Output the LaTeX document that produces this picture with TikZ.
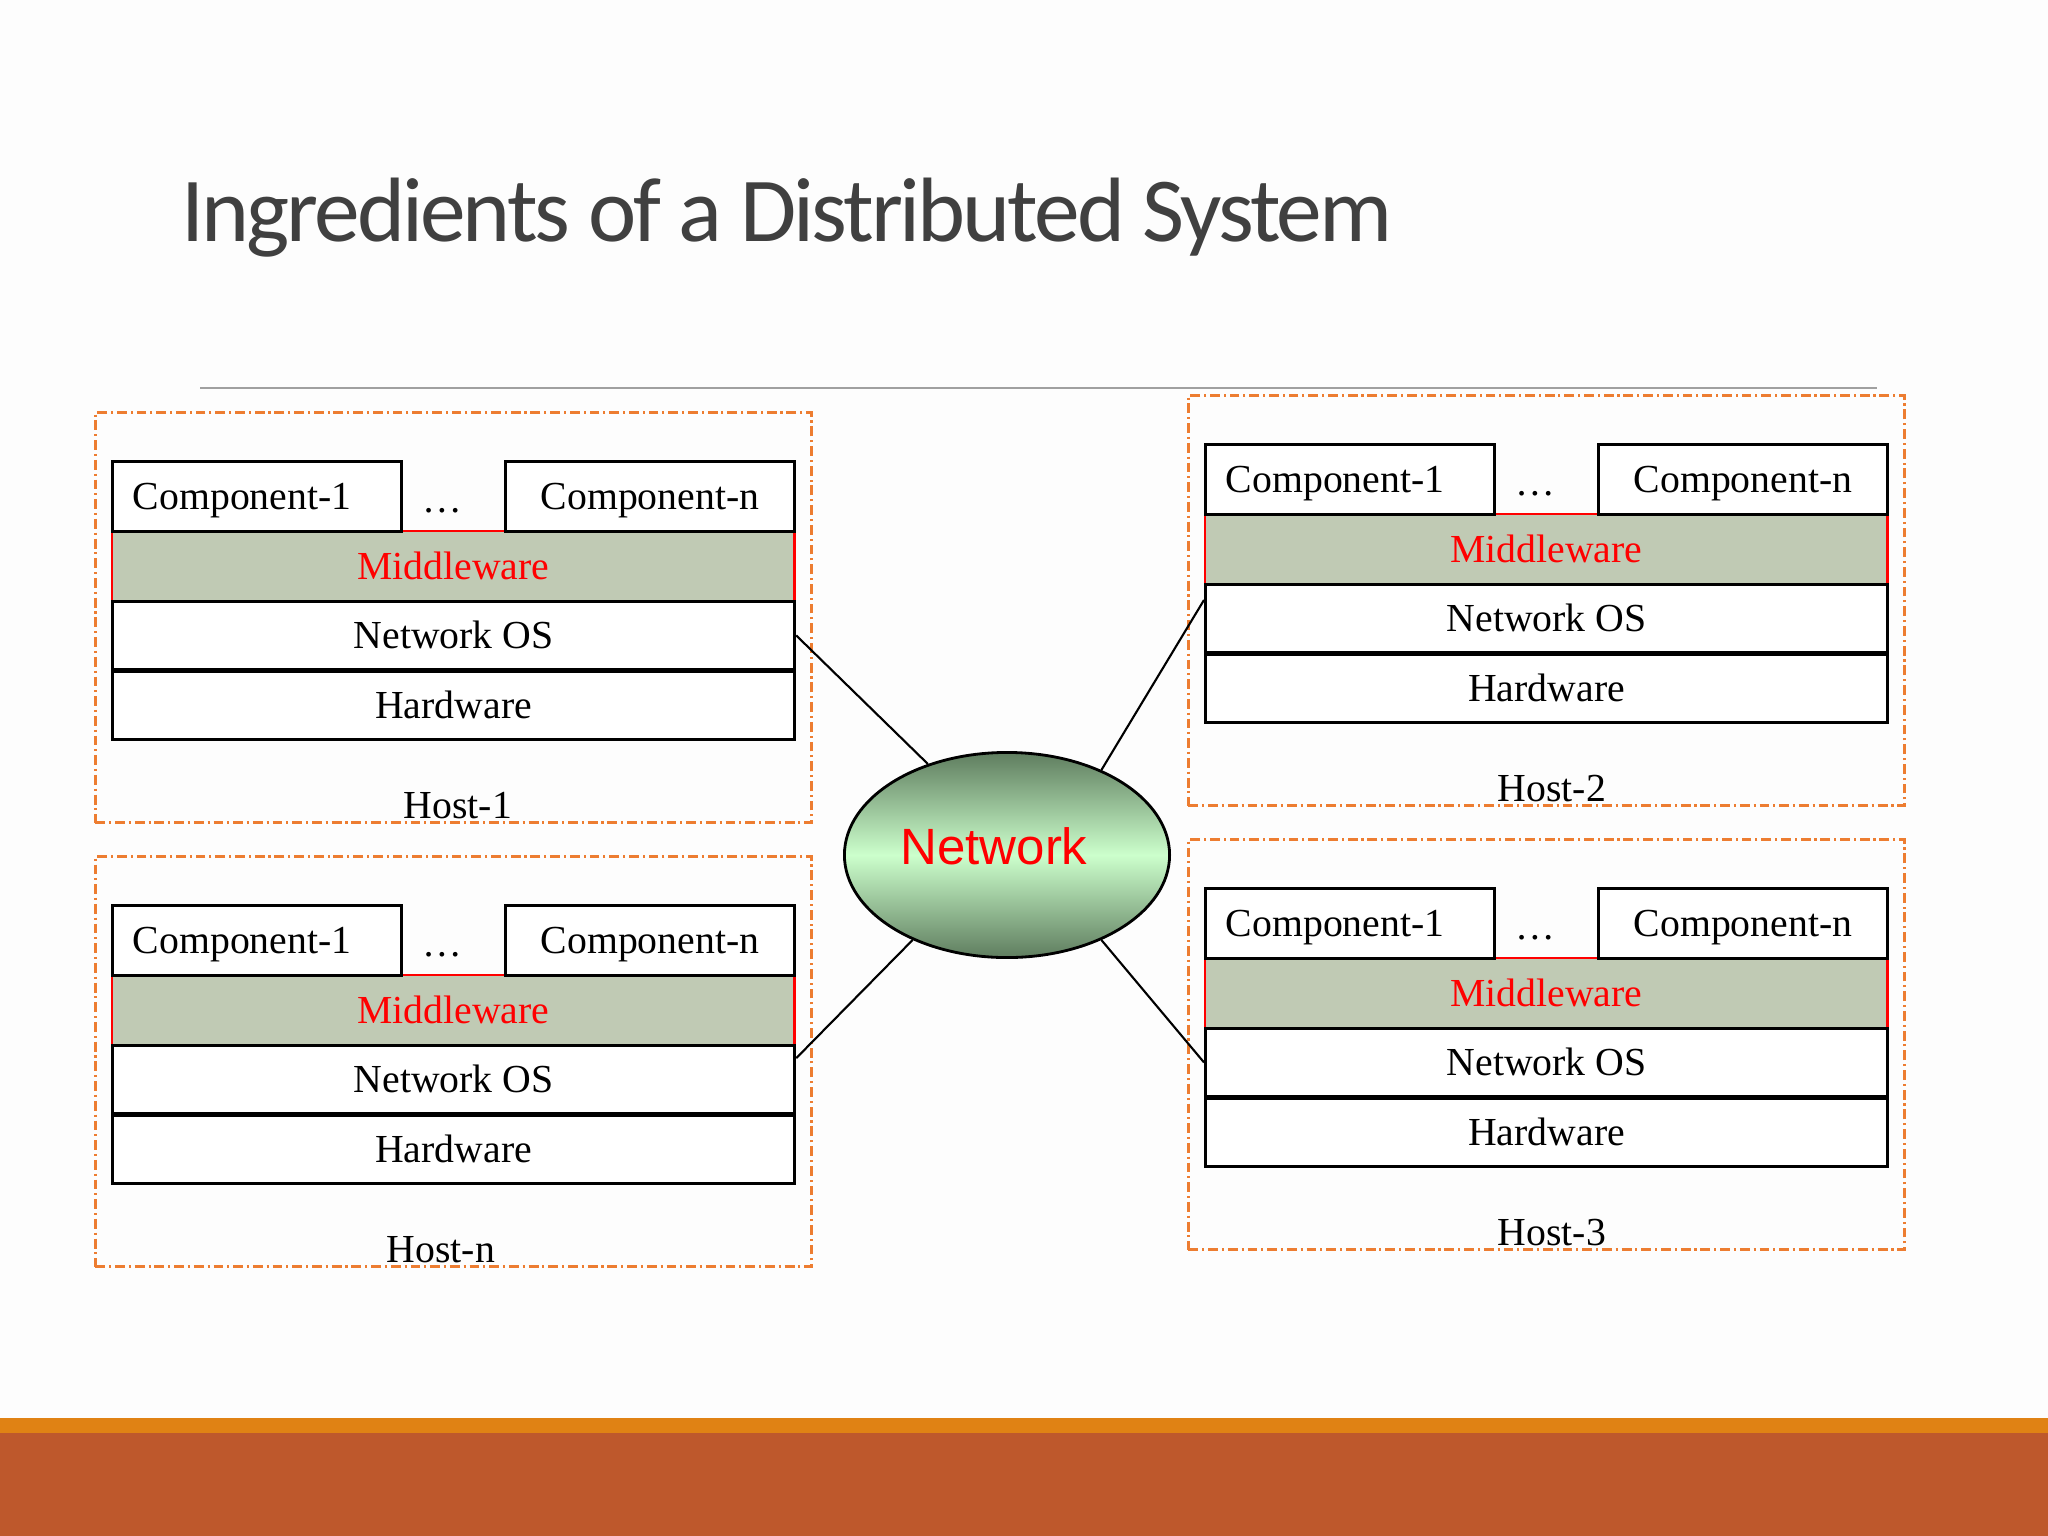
\documentclass[tikz,border=0pt]{standalone}
\usepackage{fontspec}
\setmainfont{Liberation Serif}
\newfontfamily\titlefont[LetterSpace=-3.25]{Carlito}
\newfontfamily\netfont{Liberation Sans}
\usetikzlibrary{shapes.geometric,calc}
\definecolor{framec}{RGB}{237,125,49}
\definecolor{mwfill}{RGB}{192,202,180}
\definecolor{titlec}{RGB}{64,64,64}
\definecolor{bandA}{RGB}{224,130,20}
\definecolor{bandB}{RGB}{190,88,44}
\definecolor{netdark}{RGB}{95,125,95}
\definecolor{netlight}{RGB}{204,255,204}
\definecolor{rulec}{RGB}{160,160,160}
\definecolor{bgc}{RGB}{253,253,253}
\tikzset{
  boxtext/.style={font=\fontsize{11.3}{13}\selectfont, text height=7.5pt, text depth=0pt, inner sep=0pt},
  layerbox/.style={boxtext, draw=black, line width=0.8pt, fill=white, anchor=north west, minimum height=0.68cm},
  compbox/.style={layerbox, minimum width=2.89cm, minimum height=0.7cm},
  componebox/.style={compbox, text width=2.48cm, inner xsep=0.205cm, align=left},
  mwbox/.style={boxtext, draw=red, line width=0.6pt, fill=mwfill, text=red, anchor=north west, minimum width=6.82cm, minimum height=0.7cm},
  framebox/.style={draw=framec, line width=0.8pt, dash pattern=on 2.8pt off 1.1pt on 0.6pt off 1.1pt, anchor=north west, minimum width=7.16cm, minimum height=4.1cm, inner sep=0pt},
  hostlabel/.style={font=\fontsize{11.3}{13}\selectfont, anchor=base, inner sep=0pt},
  conn/.style={draw=black, line width=0.6pt},
}
\newcommand\hoststack[5]{%
  \node[framebox] (#1frame) at (#2-17,#3-49) {};
  \node[mwbox] (#1mw) at (#2,#3+70) {Middleware};
  \node[componebox] (#1cone) at (#2,#3) {Component-1};
  \node[compbox] (#1cn) at (#2+393,#3) {Component-n};
  \node[boxtext, anchor=base] (#1dots) at (#2+331,#3+52) {…};
  \node[layerbox, minimum width=6.82cm] (#1nos) at (#2,#3+140) {Network OS};
  \node[layerbox, minimum width=6.82cm] (#1hw) at (#2,#3+210) {Hardware};
  \node[hostlabel] (#1label) at (#4,#3+358) {#5};
}
\begin{document}
\begin{tikzpicture}[x=0.01cm,y=-0.01cm]
\useasboundingbox (0,0) rectangle (2048,1536);
\fill[bgc] (0,0) rectangle (2048,1536);
\fill[bandA] (0,1418) rectangle (2048,1434);
\fill[bandB] (0,1433) rectangle (2048,1536);
\node[anchor=base west, font=\titlefont\fontsize{26}{30}\selectfont, text=titlec, inner sep=0pt] (title) at (181,241) {Ingredients of a Distributed System};
\draw[rulec, line width=0.5pt] (200,388) -- (1877,388);
\hoststack{ha}{111}{460}{458}{Host-1}
\hoststack{hn}{111}{904}{441}{Host-n}
\hoststack{hb}{1204}{443}{1552}{Host-2}
\hoststack{hc}{1204}{887}{1552}{Host-3}
\node[ellipse, draw=black, line width=0.8pt, minimum width=3.25cm, minimum height=2.05cm, inner sep=0pt,
      top color=netdark, bottom color=netdark, middle color=netlight] (net) at (1007,855) {};
\node[text=red, font=\netfont\fontsize{14.5}{16}\selectfont, inner sep=0pt] (nettext) at (994,846) {Network};
\draw[conn] (hanos.east) -- (net.131.5);
\draw[conn] ($(hbnos.north west)!0.24!(hbnos.south west)$) -- (net.42.5);
\draw[conn] ($(hnnos.north east)!0.2!(hnnos.south east)$) -- (net.222);
\draw[conn] (hcnos.west) -- (net.318);
\end{tikzpicture}
\end{document}
